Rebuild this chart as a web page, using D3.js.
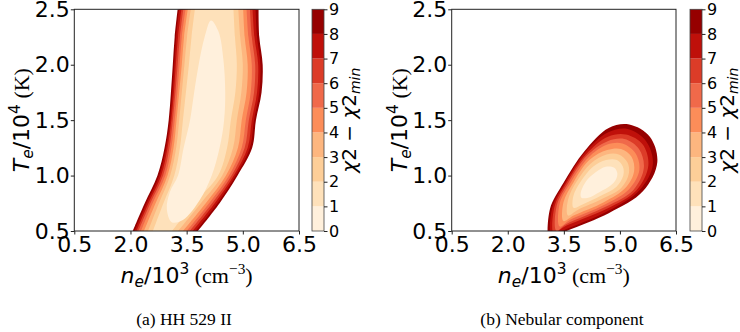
<!DOCTYPE html>
<html>
<head>
<meta charset="utf-8">
<script src="https://cdn.jsdelivr.net/npm/d3@7"></script>
<style>
  body { margin: 0; background: #fff; }
  svg { display: block; }
  text { font-family: 'DejaVu Sans', sans-serif; fill: #000; }
  .serif { font-family: 'Liberation Serif', 'Times New Roman', serif; }
</style>
</head>
<body>
<svg id="chart" width="740" height="332"></svg>
<script>
// ---- data ----
const neTicks = [0.5, 2.0, 3.5, 5.0, 6.5];
const teTicks = [0.5, 1.0, 1.5, 2.0, 2.5];
const chiLevels = [0, 1, 2, 3, 4, 5, 6, 7, 8, 9];
const captions = ['(a) HH 529 II', '(b) Nebular component'];

// (a) HH 529 II: band edges (n_e) of the chi2 < k regions, k = 2..9, at each T_e row
const teRows = [0.5, 0.75, 1.0, 1.25, 1.5, 1.75, 2.0, 2.25, 2.5];
const hhLeftEdge = [
  [2.60, 2.88, 3.17, 3.32, 3.40, 3.48, 3.56, 3.63, 3.72], // k=2
  [2.47, 2.76, 3.06, 3.22, 3.30, 3.37, 3.44, 3.51, 3.61], // k=3
  [2.36, 2.67, 2.99, 3.15, 3.23, 3.30, 3.37, 3.43, 3.53], // k=4
  [2.28, 2.59, 2.93, 3.09, 3.18, 3.25, 3.31, 3.37, 3.47], // k=5
  [2.21, 2.53, 2.87, 3.04, 3.13, 3.20, 3.26, 3.32, 3.41], // k=6
  [2.16, 2.48, 2.82, 2.99, 3.09, 3.16, 3.21, 3.27, 3.36], // k=7
  [2.11, 2.43, 2.77, 2.95, 3.06, 3.12, 3.17, 3.22, 3.30], // k=8
  [2.06, 2.38, 2.72, 2.91, 3.02, 3.08, 3.13, 3.18, 3.26]  // k=9
];
const hhRightEdge = [
  [3.11, 3.70, 4.34, 4.58, 4.68, 4.80, 4.84, 4.79, 4.75],
  [3.27, 3.88, 4.45, 4.74, 4.84, 4.96, 5.00, 4.93, 4.88],
  [3.40, 4.01, 4.55, 4.87, 4.97, 5.10, 5.13, 5.05, 5.01],
  [3.50, 4.10, 4.63, 4.97, 5.08, 5.21, 5.24, 5.15, 5.10],
  [3.58, 4.18, 4.70, 5.05, 5.16, 5.30, 5.33, 5.24, 5.19],
  [3.66, 4.25, 4.76, 5.13, 5.24, 5.38, 5.41, 5.31, 5.26],
  [3.74, 4.32, 4.81, 5.19, 5.30, 5.44, 5.47, 5.38, 5.34],
  [3.80, 4.38, 4.86, 5.25, 5.35, 5.50, 5.53, 5.44, 5.42]
];
// chi2 < 1 region, closed
const hhCore = [[3.10,0.58],[2.97,0.70],[3.05,0.85],[3.27,1.0],[3.42,1.25],[3.59,1.5],[3.70,1.75],
  [3.82,2.0],[3.98,2.25],[4.15,2.40],[4.35,2.30],[4.48,2.05],[4.53,1.75],[4.50,1.5],[4.38,1.25],
  [4.17,1.0],[3.85,0.78],[3.40,0.60]];

// (b) Nebular component: closed chi2 < k contours, k = 1..9, as [n_e, T_e]
const nebContours = [
  [[3.97,0.80],[3.95,0.84],[4.10,0.95],[4.35,1.03],[4.62,1.08],[4.85,1.07],[4.93,1.02],[4.90,0.97],[4.75,0.91],[4.45,0.85],[4.15,0.80]],
  [[3.76,0.71],[3.75,0.81],[3.96,0.95],[4.28,1.08],[4.63,1.14],[4.92,1.14],[5.08,1.08],[5.09,1.00],[4.91,0.90],[4.50,0.82],[4.00,0.74]],
  [[3.61,0.64],[3.61,0.78],[3.85,0.95],[4.22,1.11],[4.64,1.19],[4.97,1.19],[5.20,1.12],[5.24,1.02],[5.04,0.89],[4.53,0.79],[3.87,0.69]],
  [[3.49,0.59],[3.49,0.76],[3.76,0.94],[4.18,1.14],[4.66,1.23],[5.03,1.24],[5.31,1.17],[5.38,1.04],[5.15,0.89],[4.57,0.76],[3.76,0.64]],
  [[3.39,0.54],[3.39,0.75],[3.69,0.94],[4.15,1.16],[4.66,1.28],[5.07,1.29],[5.42,1.20],[5.52,1.05],[5.25,0.88],[4.60,0.74],[3.66,0.60]],
  [[3.30,0.50],[3.31,0.73],[3.63,0.94],[4.12,1.18],[4.67,1.31],[5.12,1.33],[5.51,1.24],[5.64,1.07],[5.36,0.87],[4.63,0.72],[3.56,0.56]],
  [[3.23,0.47],[3.25,0.72],[3.58,0.94],[4.09,1.19],[4.68,1.35],[5.16,1.37],[5.61,1.28],[5.76,1.09],[5.45,0.87],[4.65,0.70],[3.47,0.53]],
  [[3.17,0.45],[3.19,0.71],[3.54,0.94],[4.07,1.21],[4.69,1.39],[5.21,1.42],[5.70,1.31],[5.88,1.10],[5.53,0.87],[4.68,0.68],[3.39,0.49]],
  [[3.11,0.42],[3.13,0.70],[3.50,0.94],[4.05,1.22],[4.70,1.43],[5.25,1.46],[5.80,1.35],[6.00,1.12],[5.62,0.86],[4.70,0.66],[3.30,0.46]]
];

// OrRd colormap anchors
const orrd = ['#fff7ec','#fee8c8','#fdd49e','#fdbb84','#fc8d59','#ef6548','#d7301f','#b30000','#7f0000'];

// ---- layout ----
const svg = d3.select('#chart');
const cmap = d3.scaleLinear().domain(d3.range(orrd.length).map(i => i / (orrd.length - 1))).range(orrd);
const bandColor = i => cmap((i + 0.5) / 9);

const plotTop = 9.3, plotBottom = 231;
const panels = [
  { x0: 74.3, x1: 299, cb: 312, cap: 184, id: 'a' },
  { x0: 451.7, x1: 676, cb: 690, cap: 562, id: 'b' }
];
const fs = 22;

panels.forEach((p, pi) => {
  const x = d3.scaleLinear().domain([0.5, 6.5]).range([p.x0, p.x1]);
  const y = d3.scaleLinear().domain([0.5, 2.5]).range([plotBottom, plotTop]);
  const g = svg.append('g');

  g.append('clipPath').attr('id', 'clip' + p.id)
    .append('rect').attr('x', p.x0).attr('y', plotTop).attr('width', p.x1 - p.x0).attr('height', plotBottom - plotTop);
  const plot = g.append('g').attr('clip-path', `url(#clip${p.id})`);

  if (pi === 0) {
    const side = d3.line().x(d => x(d[0])).y(d => y(d[1])).curve(d3.curveCatmullRom);
    for (let k = 9; k >= 2; k--) {
      const L = teRows.map((t, i) => [hhLeftEdge[k - 2][i], t]);
      const R = teRows.map((t, i) => [hhRightEdge[k - 2][i], t]).reverse();
      plot.append('path')
        .attr('d', side(L) + side(R).replace(/^M/, 'L') + 'Z')
        .attr('fill', bandColor(k - 1));
    }
    plot.append('path')
      .attr('d', d3.line().x(d => x(d[0])).y(d => y(d[1])).curve(d3.curveCatmullRomClosed)(hhCore))
      .attr('fill', bandColor(0));
  } else {
    const closed = d3.line().x(d => x(d[0])).y(d => y(d[1])).curve(d3.curveCatmullRomClosed);
    for (let k = 9; k >= 1; k--) {
      plot.append('path').attr('d', closed(nebContours[k - 1])).attr('fill', bandColor(k - 1));
    }
  }

  // frame
  g.append('rect').attr('x', p.x0).attr('y', plotTop).attr('width', p.x1 - p.x0).attr('height', plotBottom - plotTop)
    .attr('fill', 'none').attr('stroke', '#222').attr('stroke-width', 1);

  // axes
  const xAxis = g.append('g').attr('transform', `translate(0,${plotBottom})`)
    .call(d3.axisBottom(x).tickValues(neTicks).tickFormat(d3.format('.1f')).tickSize(3.5).tickPadding(2));
  const yAxis = g.append('g').attr('transform', `translate(${p.x0},0)`)
    .call(d3.axisLeft(y).tickValues(teTicks).tickFormat(d3.format('.1f')).tickSize(3.5).tickPadding(1));
  [xAxis, yAxis].forEach(a => {
    a.select('.domain').remove();
    a.selectAll('line').attr('stroke', '#222');
    a.selectAll('text').attr('font-size', fs).attr('font-family', 'DejaVu Sans');
  });

  // x label
  const cx = (p.x0 + p.x1) / 2;
  const xl = g.append('text').attr('x', cx).attr('y', 283).attr('text-anchor', 'middle').attr('font-size', fs);
  xl.append('tspan').attr('font-style', 'italic').text('n');
  xl.append('tspan').attr('font-style', 'italic').attr('font-size', fs * 0.7).attr('dy', 4).text('e');
  xl.append('tspan').attr('dy', -4).text('/10');
  xl.append('tspan').attr('font-size', fs * 0.7).attr('dy', -9).text('3');
  xl.append('tspan').attr('class', 'serif').attr('dy', 9).text('\u00a0(cm');
  xl.append('tspan').attr('class', 'serif').attr('font-size', fs * 0.7).attr('dy', -9).text('\u22123');
  xl.append('tspan').attr('class', 'serif').attr('dy', 9).text(')');

  // y label
  const yl = g.append('text').attr('transform', `translate(${p.x0 - 45},${(plotTop + plotBottom) / 2}) rotate(-90)`)
    .attr('text-anchor', 'middle').attr('font-size', fs);
  yl.append('tspan').attr('font-style', 'italic').text('T');
  yl.append('tspan').attr('font-style', 'italic').attr('font-size', fs * 0.7).attr('dy', 4).text('e');
  yl.append('tspan').attr('dy', -4).text('/10');
  yl.append('tspan').attr('font-size', fs * 0.7).attr('dy', -9).text('4');
  yl.append('tspan').attr('class', 'serif').attr('dy', 9).text('\u00a0(K)');

  // colorbar
  const cy = d3.scaleLinear().domain([0, 9]).range([plotBottom, plotTop]);
  const cbw = 12;
  const cbg = g.append('g');
  cbg.selectAll('rect.band').data(d3.range(9)).join('rect').attr('class', 'band')
    .attr('x', p.cb).attr('width', cbw)
    .attr('y', d => cy(d + 1)).attr('height', d => cy(d) - cy(d + 1))
    .attr('fill', d => bandColor(d));
  cbg.append('rect').attr('x', p.cb).attr('y', plotTop).attr('width', cbw).attr('height', plotBottom - plotTop)
    .attr('fill', 'none').attr('stroke', '#444').attr('stroke-width', 0.8);
  const cAxis = cbg.append('g').attr('transform', `translate(${p.cb + cbw},0)`)
    .call(d3.axisRight(cy).tickValues(chiLevels).tickFormat(d3.format('d')).tickSize(3.5).tickPadding(1.5));
  cAxis.select('.domain').remove();
  cAxis.selectAll('line').attr('stroke', '#222');
  cAxis.selectAll('text').attr('font-size', 16).attr('font-family', 'DejaVu Sans');

  const cfs = 20;
  const cl = g.append('text').attr('transform', `translate(${p.cb + 44},${(plotTop + plotBottom) / 2}) rotate(-90)`)
    .attr('text-anchor', 'middle').attr('font-size', cfs);
  cl.append('tspan').attr('font-style', 'italic').text('\u03c7');
  cl.append('tspan').text('2 \u2212 ');
  cl.append('tspan').attr('font-style', 'italic').text('\u03c7');
  cl.append('tspan').text('2');
  cl.append('tspan').attr('font-style', 'italic').attr('font-size', cfs * 0.7).attr('dy', 4).text('min');

  // caption
  g.append('text').attr('class', 'serif').attr('x', p.cap).attr('y', 325)
    .attr('text-anchor', 'middle').attr('font-size', 17.5).text(captions[pi]);
});
</script>
</body>
</html>
